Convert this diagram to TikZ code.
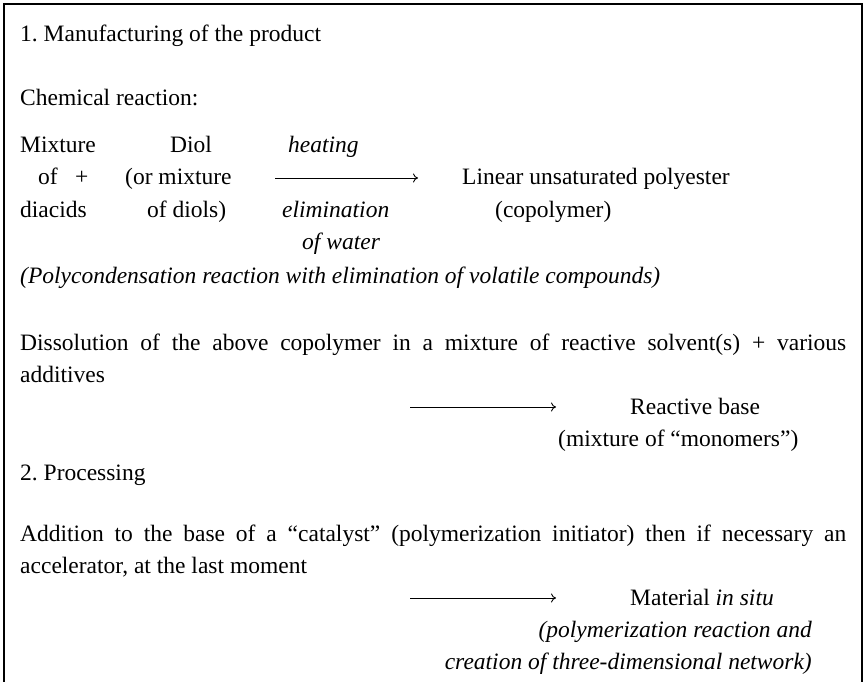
\documentclass[tikz,border=0pt]{standalone}
\usepackage{fontspec}
\setmainfont{Liberation Serif}
\usetikzlibrary{arrows.meta}
\tikzset{
  txt/.style={anchor=base west, inner sep=0pt, font=\fontsize{23.5}{32}\selectfont},
  rtxt/.style={anchor=base east, inner sep=0pt, font=\fontsize{23.5}{32}\selectfont\itshape},
  itxt/.style={txt, font=\fontsize{23.5}{32}\selectfont\itshape},
  para/.style={anchor=base west, inner sep=0pt, text width=826pt, align=justify,
        font=\fontsize{23.5}{32}\selectfont},
  rxn/.style={-{To[length=5pt,width=9pt]}, line width=0.9pt},
  frame/.style={line width=2.5pt}
}

\begin{document}
\begin{tikzpicture}[x=1pt, y=-1pt]
\useasboundingbox (0,0) rectangle (865,682);
\draw[frame] (4,682) -- (4,4) -- (862,4) -- (862,682);

% 1. manufacturing
\node[txt] (sec1) at (20,42) {1.\ Manufacturing of the product};
\node[txt] (chem) at (20,106) {Chemical reaction:};

\node[txt] (mixa) at (20,153)  {Mixture};
\node[txt] (mixb) at (38,185)  {of};
\node[txt] (plus) at (75,185)  {+};
\node[txt] (mixc) at (20,217)  {diacids};
\node[txt] (diola) at (170,153) {Diol};
\node[txt] (diolb) at (125,185) {(or mixture};
\node[txt] (diolc) at (147,217) {of diols)};

\node[itxt] (heat) at (288,153)  {heating};
\node[itxt] (elim) at (282,217)  {elimination};
\node[itxt] (water) at (302,249) {of water};
\coordinate (r1s) at (275,178);
\coordinate (r1e) at (418,178);
\draw[rxn] (r1s) -- (r1e);

\node[txt] (linear) at (462,185) {Linear unsaturated polyester};
\node[txt] (copoly) at (495,217) {(copolymer)};
\node[itxt] (polyc) at (20,283)
  {(Polycondensation reaction with elimination of volatile compounds)};

\node[para] (diss) at (20,350)
  {Dissolution of the above copolymer in a mixture of reactive solvent(s) + various\linebreak additives};
\coordinate (r2s) at (410,407);
\coordinate (r2e) at (556,407);
\draw[rxn] (r2s) -- (r2e);
\node[txt] (base) at (630,414) {Reactive base};
\node[txt] (mono) at (558,446) {(mixture of “monomers”)};

% 2. processing
\node[txt] (sec2) at (20,480) {2.\ Processing};
\node[para] (addn) at (20,541)
  {Addition to the base of a “catalyst” (polymerization initiator) then if necessary an\linebreak accelerator, at the last moment};
\coordinate (r3s) at (410,598);
\coordinate (r3e) at (556,598);
\draw[rxn] (r3s) -- (r3e);
\node[txt] (mat) at (630,605) {Material \textit{in situ}};
\node[rtxt] (polyr) at (812,637) {(polymerization reaction and};
\node[rtxt] (creat) at (812,669) {creation of three-dimensional network)};
\end{tikzpicture}
\end{document}
